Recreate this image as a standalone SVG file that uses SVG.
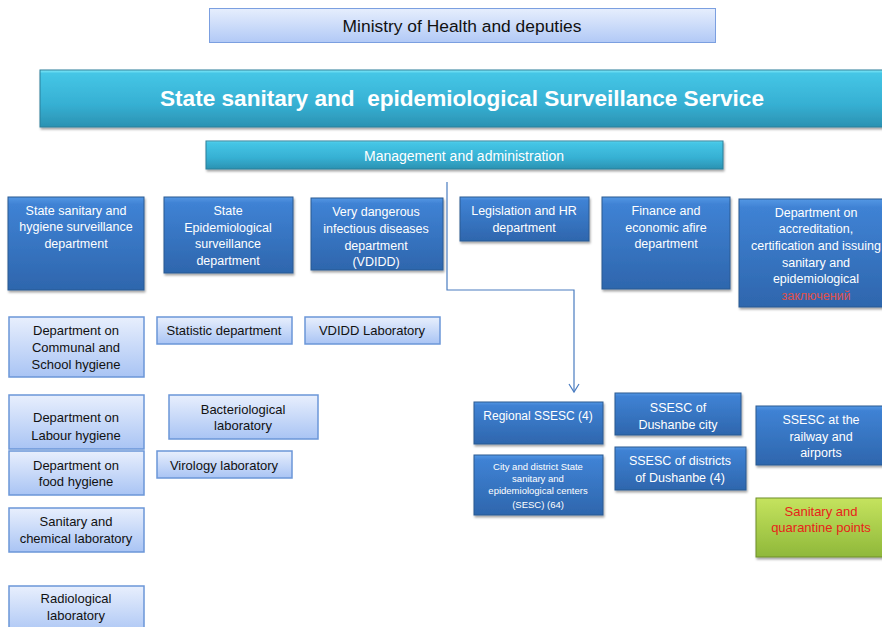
<svg xmlns="http://www.w3.org/2000/svg" width="882" height="627" viewBox="0 0 882 627">
<defs>
<linearGradient id="gMin" x1="0" y1="0" x2="0" y2="1"><stop offset="0" stop-color="#e6eefd"/><stop offset="1" stop-color="#b1c9f6"/></linearGradient>
<linearGradient id="gTeal" x1="0" y1="0" x2="0" y2="1"><stop offset="0" stop-color="#86ecfa"/><stop offset="0.06" stop-color="#45c6e6"/><stop offset="0.6" stop-color="#36b0d3"/><stop offset="1" stop-color="#2b92b2"/></linearGradient>
<linearGradient id="gDark" x1="0" y1="0" x2="0" y2="1"><stop offset="0" stop-color="#5497e4"/><stop offset="0.08" stop-color="#3f82d4"/><stop offset="1" stop-color="#2e66ad"/></linearGradient>
<linearGradient id="gLight" x1="0" y1="0" x2="0" y2="1"><stop offset="0" stop-color="#e8effd"/><stop offset="1" stop-color="#a9c4f4"/></linearGradient>
<linearGradient id="gGreen" x1="0" y1="0" x2="0" y2="1"><stop offset="0" stop-color="#c5e35e"/><stop offset="1" stop-color="#8fb83a"/></linearGradient>
<filter id="sh" x="-10%" y="-10%" width="120%" height="130%"><feDropShadow dx="1" dy="2" stdDeviation="1" flood-color="#000" flood-opacity="0.35"/></filter>
<marker id="arr" markerWidth="12" markerHeight="12" refX="10" refY="6" orient="auto" markerUnits="userSpaceOnUse" viewBox="0 0 12 12">
<path d="M2,1 L10,6 L2,11" fill="none" stroke="#4a7cc0" stroke-width="1.2"/>
</marker>
</defs>
<style>
text{font-family:"Liberation Sans",Arial,sans-serif;text-anchor:middle}
.dark rect{fill:url(#gDark);stroke:#2b5a92;stroke-width:1;filter:url(#sh)}
.light rect{fill:url(#gLight);stroke:#6b96d8;stroke-width:1.5}
.dark text{fill:#fff;font-size:12.5px}
.light text{fill:#111;font-size:13px}
.teal rect{fill:url(#gTeal);stroke:#2a7f99;stroke-width:1;filter:url(#sh)}
.conn{fill:none;stroke:#4a7cc0;stroke-width:1.2}
.dark text.red{fill:#e0504a}
</style>

<g id="ministry">
<rect x="209.5" y="8.5" width="506" height="34" fill="url(#gMin)" stroke="#7b9fe0" stroke-width="1"/>
<text x="462" y="32" font-size="17.4" fill="#111">Ministry of Health and deputies</text>
</g>

<g id="service" class="teal">
<rect x="40" y="70" width="850" height="57"/>
<text x="462" y="106" font-size="22.6" font-weight="bold" fill="#fff" style="white-space:pre">State sanitary and  epidemiological Surveillance Service</text>
</g>

<g id="management" class="teal">
<rect x="206" y="141" width="517" height="28"/>
<text x="464" y="161" font-size="14" fill="#fff">Management and administration</text>
</g>

<g id="connectors">
<path class="conn" d="M447,182 V290 H574 V392" marker-end="url(#arr)"/>
</g>

<g id="hygiene-dept" class="dark">
<rect x="8" y="197" width="136" height="93"/>
<text x="76" y="215">State sanitary and</text>
<text x="76" y="231">hygiene surveillance</text>
<text x="76" y="248">department</text>
</g>
<g id="epid-dept" class="dark">
<rect x="164" y="197" width="129" height="76"/>
<text x="228" y="215">State</text>
<text x="228" y="232">Epidemiological</text>
<text x="228" y="248">surveillance</text>
<text x="228" y="265">department</text>
</g>
<g id="vdidd-dept" class="dark">
<rect x="311" y="198" width="132" height="72"/>
<text x="376" y="216">Very dangerous</text>
<text x="376" y="233">infectious diseases</text>
<text x="376" y="250">department</text>
<text x="376" y="266">(VDIDD)</text>
</g>
<g id="legislation-dept" class="dark">
<rect x="460" y="197" width="129" height="44"/>
<text x="524" y="215">Legislation and HR</text>
<text x="524" y="232">department</text>
</g>
<g id="finance-dept" class="dark">
<rect x="602" y="197" width="128" height="92"/>
<text x="666" y="215">Finance and</text>
<text x="666" y="232">economic afire</text>
<text x="666" y="248">department</text>
</g>
<g id="accreditation-dept" class="dark">
<rect x="739" y="199" width="150" height="108"/>
<text x="816" y="217">Department on</text>
<text x="816" y="233">accreditation,</text>
<text x="816" y="250">certification and issuing</text>
<text x="816" y="267">sanitary and</text>
<text x="816" y="283">epidemiological</text>
<text x="816" y="300" class="red">заключений</text>
</g>

<g id="communal" class="light">
<rect x="9" y="317" width="135" height="60"/>
<text x="76" y="335">Department  on</text>
<text x="76" y="352">Communal and</text>
<text x="76" y="369">School hygiene</text>
</g>
<g id="statistic" class="light">
<rect x="157" y="317" width="135" height="27"/>
<text x="224" y="335">Statistic department</text>
</g>
<g id="vdidd-lab" class="light">
<rect x="305" y="317" width="135" height="27"/>
<text x="372" y="335">VDIDD Laboratory</text>
</g>
<g id="labour" class="light">
<rect x="9" y="395" width="135" height="54"/>
<text x="76" y="422">Department  on</text>
<text x="76" y="440">Labour  hygiene</text>
</g>
<g id="bacteriological" class="light">
<rect x="169" y="395" width="149" height="44"/>
<text x="243" y="414">Bacteriological</text>
<text x="243" y="430">laboratory</text>
</g>
<g id="food" class="light">
<rect x="9" y="451" width="135" height="44"/>
<text x="76" y="470">Department  on</text>
<text x="76" y="486">food  hygiene</text>
</g>
<g id="virology" class="light">
<rect x="157" y="451" width="135" height="27"/>
<text x="224" y="470">Virology laboratory</text>
</g>
<g id="sanchem" class="light">
<rect x="9" y="508" width="135" height="44"/>
<text x="76" y="526">Sanitary and</text>
<text x="76" y="543">chemical laboratory</text>
</g>
<g id="radiological" class="light">
<rect x="9" y="586" width="135" height="50"/>
<text x="76" y="603">Radiological</text>
<text x="76" y="620">laboratory</text>
</g>

<g id="regional" class="dark">
<rect x="474" y="402" width="129" height="42"/>
<text x="538" y="420" style="font-size:12px">Regional SSESC (4)</text>
</g>
<g id="city-district" class="dark">
<rect x="474" y="455" width="129" height="60"/>
<text x="538" y="470" style="font-size:9.5px">City and district State</text>
<text x="538" y="482" style="font-size:9.5px">sanitary and</text>
<text x="538" y="494" style="font-size:9.5px">epidemiological centers</text>
<text x="538" y="508" style="font-size:9.5px">(SESC) (64)</text>
</g>
<g id="dushanbe-city" class="dark">
<rect x="615" y="393" width="126" height="42"/>
<text x="678" y="412">SSESC of</text>
<text x="678" y="429">Dushanbe city</text>
</g>
<g id="dushanbe-districts" class="dark">
<rect x="615" y="447" width="131" height="43"/>
<text x="680" y="465">SSESC of districts</text>
<text x="680" y="482">of  Dushanbe (4)</text>
</g>
<g id="railway" class="dark">
<rect x="756" y="406" width="134" height="59"/>
<text x="821" y="424">SSESC at the</text>
<text x="821" y="441">railway and</text>
<text x="821" y="457">airports</text>
</g>
<g id="quarantine">
<rect x="756" y="498" width="134" height="59" fill="url(#gGreen)" stroke="#6f8f2a" stroke-width="1" filter="url(#sh)"/>
<text x="821" y="516" font-size="13" fill="#e8231a">Sanitary and</text>
<text x="821" y="532" font-size="13" fill="#e8231a">quarantine points</text>
</g>
</svg>
